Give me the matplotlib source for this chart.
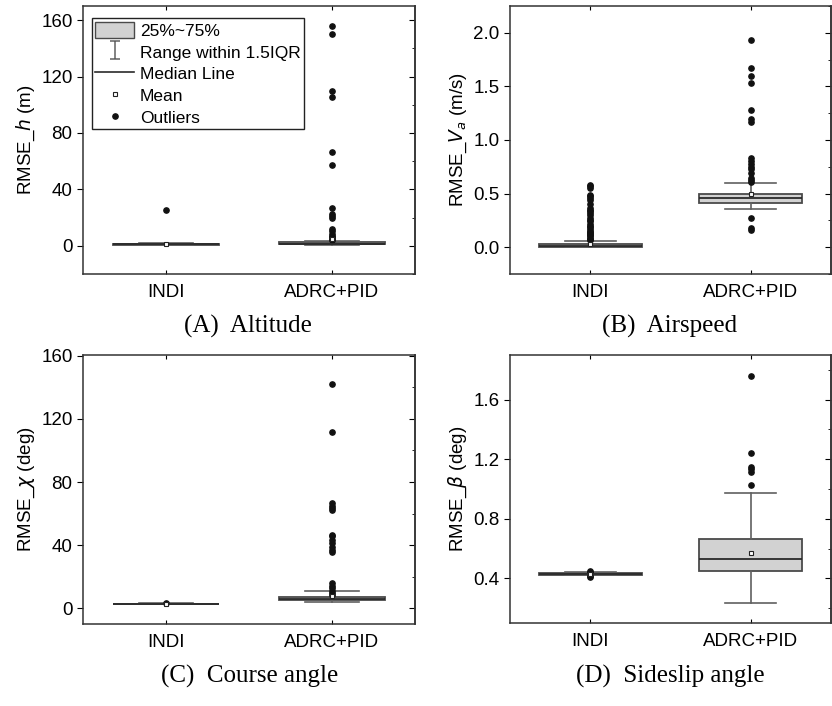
import matplotlib
matplotlib.use('Agg')
import matplotlib.pyplot as plt
from matplotlib.patches import Patch
from matplotlib.lines import Line2D
from matplotlib.path import Path
from matplotlib.ticker import MultipleLocator, AutoMinorLocator

plt.rcParams['font.family'] = ['Liberation Sans', 'DejaVu Sans']
plt.rcParams['mathtext.fontset'] = 'dejavusans'

groups = ['INDI', 'ADRC+PID']

# box statistics per panel: (q1, median, q3, whisker low, whisker high, mean)
alt_stats = [(0.8, 1.0, 1.3, 0.5, 1.8, 1.2), (1.0, 1.6, 2.4, 0.6, 3.5, 5.0)]
alt_fliers = [[25.5],
              [155.7, 150.0, 109.7, 105.5, 66.8, 57.6, 26.8, 22.5, 21.3, 20.0,
               11.6, 10.2, 8.3, 7.0, 6.0, 4.7, 3.9]]

spd_stats = [(0.006, 0.014, 0.03, 0.002, 0.0625, 0.03),
             (0.416, 0.456, 0.497, 0.353, 0.60, 0.497)]
spd_fliers = [[0.07, 0.08, 0.09, 0.10, 0.11, 0.12, 0.13, 0.14, 0.15, 0.17, 0.19,
               0.20, 0.22, 0.24, 0.25, 0.27, 0.30, 0.32, 0.34, 0.35, 0.37, 0.40,
               0.44, 0.46, 0.48, 0.49, 0.55, 0.57, 0.58],
              [1.93, 1.675, 1.60, 1.53, 1.28, 1.20, 1.17, 0.83, 0.80, 0.78, 0.75,
               0.73, 0.69, 0.65, 0.63, 0.61, 0.27, 0.18, 0.16]]

crs_stats = [(2.6, 2.75, 2.9, 2.4, 3.1, 2.8), (4.9, 5.6, 7.4, 3.8, 10.6, 8.0)]
crs_fliers = [[3.2],
              [142.4, 111.7, 66.7, 65.0, 63.6, 62.5, 46.6, 45.5, 43.4, 41.3, 39.0,
               37.0, 35.4, 15.9, 14.2, 12.7, 11.2, 9.5, 8.5]]

ss_stats = [(0.425, 0.43, 0.435, 0.42, 0.44, 0.43),
            (0.451, 0.527, 0.664, 0.232, 0.97, 0.568)]
ss_fliers = [[0.445, 0.45, 0.415, 0.412],
             [1.759, 1.241, 1.149, 1.131, 1.115, 1.03]]

box_face = '#d2d2d2'
edge = '#4a4a4a'
whisk = '#606060'


def make_bxp(stats, fliers):
    out = []
    for s, f in zip(stats, fliers):
        q1, med, q3, lo, hi, mean = s
        out.append(dict(q1=q1, med=med, q3=q3, whislo=lo, whishi=hi,
                        mean=mean, fliers=f))
    return out


def panel(rect, stats, fliers, ylim, major, ylabel, fmt):
    ax = fig.add_axes(rect)
    ax.bxp(make_bxp(stats, fliers), positions=[1, 2], widths=0.64,
           capwidths=0.32, showmeans=True, patch_artist=True,
           boxprops=dict(facecolor=box_face, edgecolor=edge, linewidth=1.3),
           medianprops=dict(color='#2a2a2a', linewidth=1.3),
           whiskerprops=dict(color=whisk, linewidth=1.2),
           capprops=dict(color=whisk, linewidth=1.2),
           meanprops=dict(marker='s', markersize=3, markerfacecolor='white',
                          markeredgecolor='#222222', markeredgewidth=0.8),
           flierprops=dict(marker='o', markersize=3.8, markerfacecolor='#111111',
                           markeredgecolor='#111111'))
    ax.set_xlim(0.5, 2.5)
    ax.set_ylim(*ylim)
    ax.set_xticks([1, 2])
    ax.set_xticklabels(groups, fontsize=13.5)
    ax.yaxis.set_major_locator(MultipleLocator(major))
    ax.yaxis.set_major_formatter(fmt)
    ax.tick_params(axis='y', which='major', direction='out', length=4,
                   labelsize=13.5)
    ax.tick_params(axis='x', direction='in', length=3, top=True, pad=7)
    # inward major + minor ticks on the right spine
    sec = ax.secondary_yaxis('right')
    sec.yaxis.set_major_locator(MultipleLocator(major))
    sec.yaxis.set_minor_locator(AutoMinorLocator(2))
    sec.tick_params(which='major', direction='in', length=4, labelright=False)
    sec.tick_params(which='minor', direction='in', length=2)
    sec.spines['right'].set_color('#333333')
    sec.spines['right'].set_linewidth(1.1)
    for sp in ax.spines.values():
        sp.set_color('#333333')
        sp.set_linewidth(1.1)
    ax.set_ylabel(ylabel, fontsize=13.5, labelpad=3)
    return ax


fig = plt.figure(figsize=(8.32, 7.06), dpi=100)
W, H = 832.0, 706.0


def rect(l, t, r, b):
    return [l / W, 1 - b / H, (r - l) / W, (b - t) / H]


axA = panel(rect(83, 6, 415, 274), alt_stats, alt_fliers, (-20, 170), 40,
            'RMSE_$h$ (m)', '{x:.0f}')
axB = panel(rect(510, 6, 831, 274), spd_stats, spd_fliers, (-0.25, 2.25), 0.5,
            'RMSE_$V_a$ (m/s)', '{x:.1f}')
axC = panel(rect(83, 355, 415, 624), crs_stats, crs_fliers, (-10, 160.5), 40,
            'RMSE_$\\chi$ (deg)', '{x:.0f}')
axD = panel(rect(510, 355, 831, 623), ss_stats, ss_fliers, (0.1, 1.9), 0.4,
            'RMSE_$\\beta$ (deg)', '{x:.1f}')

# legend symbol for the whisker range: an I-beam
ibeam = Path([(0, -1), (0, 1), (-0.6, 1), (0.6, 1), (-0.6, -1), (0.6, -1)],
             [Path.MOVETO, Path.LINETO, Path.MOVETO, Path.LINETO,
              Path.MOVETO, Path.LINETO])
handles = [
    Patch(facecolor=box_face, edgecolor=edge, linewidth=1.0),
    Line2D([], [], linestyle='none', marker=ibeam, markersize=13,
           markeredgecolor=whisk, markerfacecolor='none', markeredgewidth=1.1),
    Line2D([], [], color='#2a2a2a', linewidth=1.2),
    Line2D([], [], linestyle='none', marker='s', markersize=3,
           markerfacecolor='white', markeredgecolor='#222222',
           markeredgewidth=0.8),
    Line2D([], [], linestyle='none', marker='o', markersize=3.8,
           markerfacecolor='#111111', markeredgecolor='#111111'),
]
labels = ['25%~75%', 'Range within 1.5IQR', 'Median Line', 'Mean', 'Outliers']
leg = axA.legend(handles, labels, loc='upper left',
                 bbox_to_anchor=(0.027, 0.955), borderaxespad=0, fontsize=12.5,
                 frameon=True, fancybox=False, edgecolor='#222222',
                 framealpha=1, handlelength=2.2, handleheight=1.1,
                 labelspacing=0.26, borderpad=0.2, handletextpad=0.35)
leg.get_frame().set_linewidth(1.0)

captions = ['(A)  Altitude', '(B)  Airspeed', '(C)  Course angle',
            '(D)  Sideslip angle']
cap_pos = [(248, 326), (670, 326), (250, 676), (670, 676)]
for txt, (cx, cy) in zip(captions, cap_pos):
    fig.text(cx / W, 1 - cy / H, txt, ha='center', va='center', fontsize=18,
             family='Liberation Serif')

fig.savefig('out.png', dpi=100)
